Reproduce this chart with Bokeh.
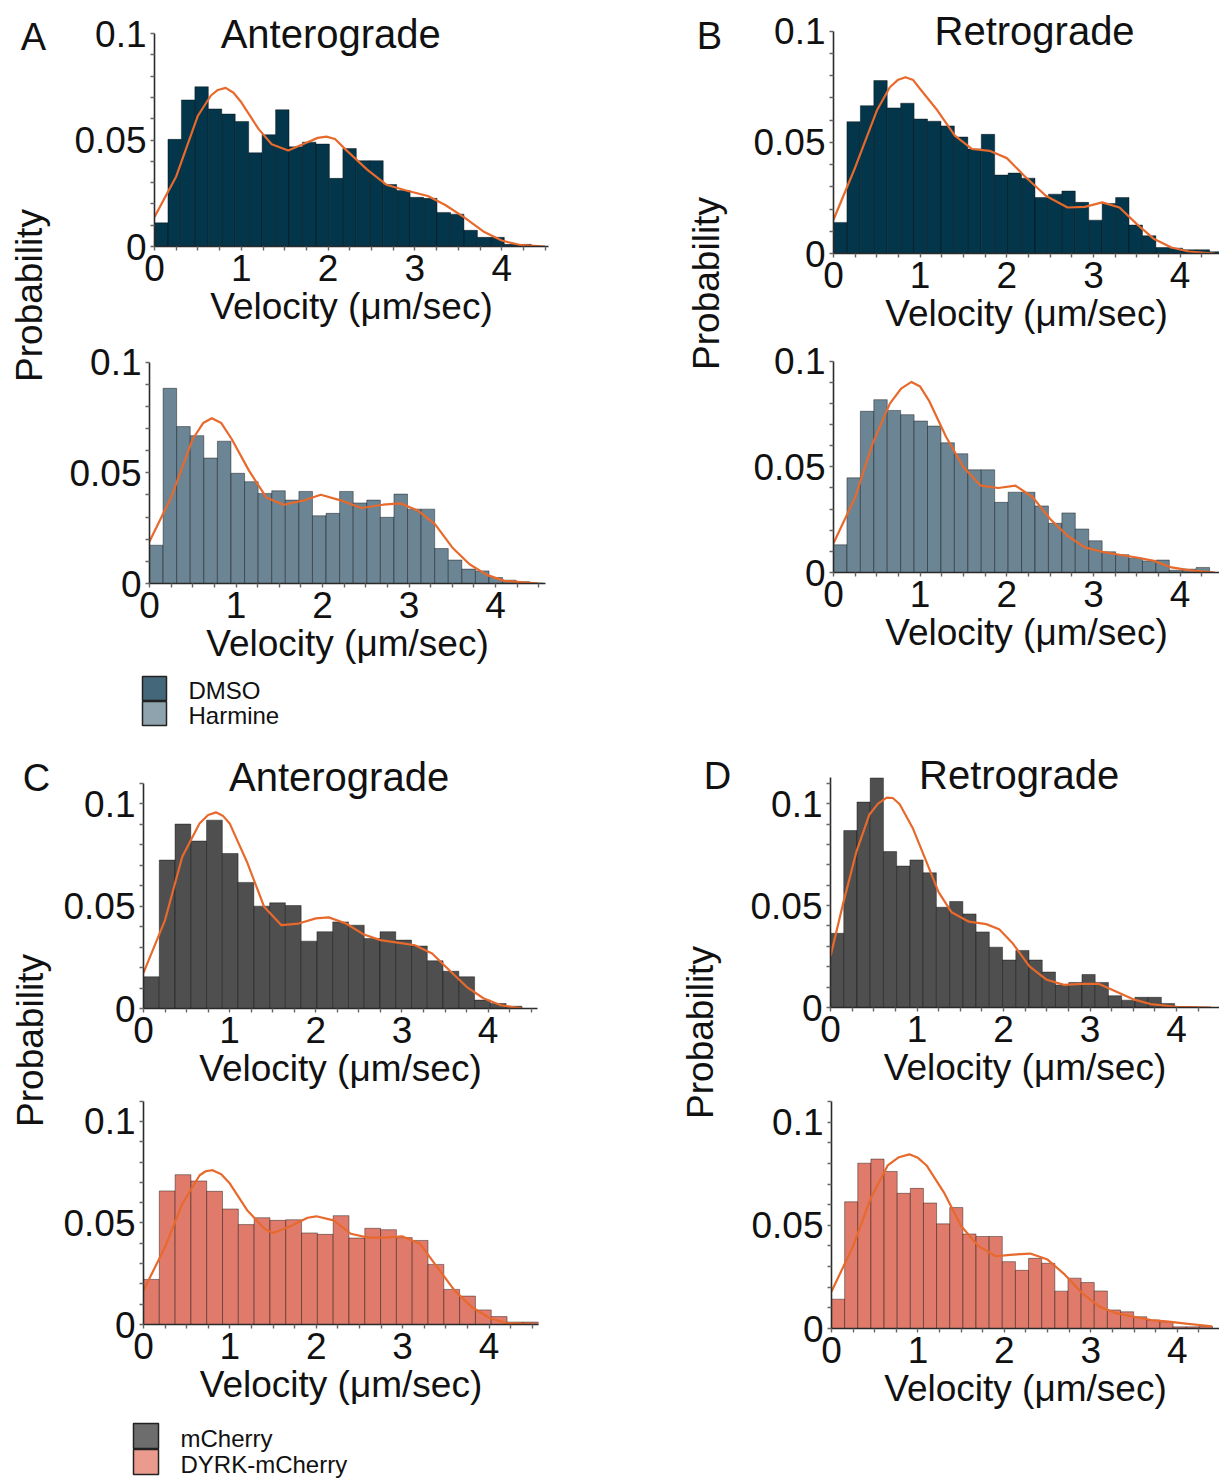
import math
from bokeh.plotting import figure
from bokeh.models import Range1d, FixedTicker, CustomJSTickFormatter, Label
from bokeh.core.properties import value
from bokeh.layouts import row, column
from bokeh.embed import file_html
from bokeh.resources import INLINE

FONT = "Liberation Sans"

# ---------------- data ----------------
x_major_ticks = [0, 1, 2, 3, 4]
x_minor_ticks = [0.25, 0.5, 0.75, 1.25, 1.5, 1.75, 2.25, 2.5, 2.75,
                 3.25, 3.5, 3.75, 4.25, 4.5]
y_major_ticks = [0, 0.05, 0.1]
y_minor_ticks = [0.01, 0.02, 0.03, 0.04, 0.06, 0.07, 0.08, 0.09, 0.11]

x_label = "Velocity (μm/sec)"
y_label = "Probability"
titles = ["Anterograde", "Retrograde"]
legend_ab = ["DMSO", "Harmine"]
legend_cd = ["mCherry", "DYRK-mCherry"]

# A top: DMSO anterograde
a_top_bin = 0.155
a_top_prob = [0.0111, 0.0503, 0.0688, 0.0750, 0.0646, 0.0622, 0.0587, 0.0440,
              0.0525, 0.0642, 0.0468, 0.0490, 0.0481, 0.0320, 0.0460, 0.0403,
              0.0403, 0.0291, 0.0263, 0.0231, 0.0226, 0.0160, 0.0152, 0.0076,
              0.0043, 0.0043, 0.0010, 0.0010]
a_top_fit_x = [0, 0.25, 0.5, 0.65, 0.73, 0.82, 0.91, 1.0, 1.2, 1.35, 1.54, 1.75,
               1.88, 1.98, 2.08, 2.2, 2.45, 2.67, 2.9, 3.15, 3.35, 3.56, 3.8, 4.0,
               4.2, 4.5]
a_top_fit_y = [0.0139, 0.0329, 0.0614, 0.0709, 0.0735, 0.0745, 0.0722, 0.0677,
               0.0551, 0.0480, 0.0451, 0.0487, 0.0510, 0.0516, 0.0505, 0.0456,
               0.0361, 0.0290, 0.0263, 0.0237, 0.0195, 0.0139, 0.0068, 0.0028,
               0.0008, 0.0]

# A bottom: Harmine anterograde
a_bot_bin = 0.157
a_bot_prob = [0.0173, 0.0882, 0.0709, 0.0668, 0.0567, 0.0643, 0.0498, 0.0460,
              0.0407, 0.0419, 0.0377, 0.0416, 0.0306, 0.0317, 0.0416, 0.0364,
              0.0377, 0.0299, 0.0404, 0.0336, 0.0336, 0.0158, 0.0106, 0.0065,
              0.0057, 0.0027, 0.0015, 0.0008, 0.0002]
a_bot_fit_x = [0, 0.25, 0.5, 0.62, 0.72, 0.83, 0.95, 1.15, 1.35, 1.55, 1.8, 1.98,
               2.2, 2.45, 2.7, 2.9, 3.1, 3.3, 3.5, 3.7, 3.9, 4.1, 4.5]
a_bot_fit_y = [0.0190, 0.0389, 0.0653, 0.0725, 0.0747, 0.0725, 0.0653, 0.0510,
               0.0389, 0.0356, 0.0377, 0.0401, 0.0377, 0.0341, 0.0356, 0.0362,
               0.0330, 0.0268, 0.0163, 0.0087, 0.0039, 0.0012, 0.0]

# B top: DMSO retrograde
b_top_bin = 0.155
b_top_prob = [0.0140, 0.0593, 0.0665, 0.0778, 0.0655, 0.0676, 0.0605, 0.0595,
              0.0574, 0.0524, 0.0470, 0.0536, 0.0353, 0.0362, 0.0339, 0.0252,
              0.0267, 0.0281, 0.0230, 0.0150, 0.0225, 0.0252, 0.0128, 0.0080,
              0.0027, 0.0024, 0.0017, 0.0017, 0.0008]
b_top_fit_x = [0, 0.25, 0.5, 0.65, 0.74, 0.83, 0.92, 1.0, 1.2, 1.4, 1.6, 1.8,
               2.0, 2.2, 2.45, 2.7, 2.9, 3.1, 3.3, 3.5, 3.7, 3.9, 4.1, 4.4]
b_top_fit_y = [0.0152, 0.0387, 0.0643, 0.0748, 0.0780, 0.0793, 0.0780, 0.0740,
               0.0643, 0.0530, 0.0470, 0.0462, 0.0429, 0.0350, 0.0260, 0.0207,
               0.0210, 0.0230, 0.0207, 0.0132, 0.0065, 0.0027, 0.0009, 0.0]

# B bottom: Harmine retrograde
b_bot_bin = 0.155
b_bot_prob = [0.0131, 0.0448, 0.0763, 0.0818, 0.0767, 0.0747, 0.0717, 0.0693,
              0.0614, 0.0562, 0.0486, 0.0486, 0.0332, 0.0380, 0.0380, 0.0315,
              0.0233, 0.0282, 0.0206, 0.0150, 0.0098, 0.0084, 0.0068, 0.0055,
              0.0059, 0.0011, 0.0016, 0.0024]
b_bot_fit_x = [0, 0.25, 0.45, 0.65, 0.78, 0.9, 1.0, 1.1, 1.3, 1.5, 1.7, 1.9,
               2.1, 2.3, 2.5, 2.7, 2.9, 3.1, 3.3, 3.5, 3.7, 3.9, 4.1, 4.4]
b_bot_fit_y = [0.0138, 0.0356, 0.0609, 0.0799, 0.0870, 0.0902, 0.0880, 0.0815,
               0.0641, 0.0498, 0.0411, 0.0400, 0.0411, 0.0356, 0.0253, 0.0174,
               0.0119, 0.0098, 0.0084, 0.0071, 0.0055, 0.0024, 0.0011, 0.0]

# C top: mCherry anterograde
c_top_bin = 0.183
c_top_prob = [0.0155, 0.0725, 0.0901, 0.0818, 0.0920, 0.0757, 0.0616, 0.0500,
              0.0516, 0.0503, 0.0329, 0.0375, 0.0423, 0.0407, 0.0342, 0.0375,
              0.0334, 0.0305, 0.0233, 0.0182, 0.0155, 0.0041, 0.0024, 0.0011]
c_top_fit_x = [0, 0.25, 0.45, 0.65, 0.75, 0.84, 0.92, 1.0, 1.2, 1.4, 1.6, 1.8,
               2.0, 2.15, 2.35, 2.55, 2.75, 2.95, 3.15, 3.35, 3.55, 3.75, 3.95,
               4.15, 4.4]
c_top_fit_y = [0.0174, 0.0432, 0.0741, 0.0904, 0.0945, 0.0958, 0.0942, 0.0904,
               0.0717, 0.0497, 0.0407, 0.0415, 0.0440, 0.0445, 0.0415, 0.0363,
               0.0334, 0.0322, 0.0309, 0.0269, 0.0187, 0.0106, 0.0049, 0.0016,
               0.0]

# C bottom: DYRK-mCherry anterograde
c_bot_bin = 0.183
c_bot_prob = [0.0222, 0.0658, 0.0738, 0.0707, 0.0656, 0.0569, 0.0492, 0.0526,
              0.0513, 0.0516, 0.0451, 0.0444, 0.0536, 0.0426, 0.0474, 0.0467,
              0.0428, 0.0414, 0.0296, 0.0173, 0.0140, 0.0072, 0.0039, 0.0012,
              0.0012]
c_bot_fit_x = [0, 0.25, 0.45, 0.65, 0.72, 0.8, 0.9, 1.0, 1.2, 1.4, 1.5, 1.7,
               1.9, 2.0, 2.2, 2.4, 2.6, 2.8, 3.0, 3.2, 3.4, 3.6, 3.8, 4.0, 4.2,
               4.5]
c_bot_fit_y = [0.0168, 0.0382, 0.0595, 0.0735, 0.0755, 0.0760, 0.0740, 0.0694,
               0.0563, 0.0472, 0.0451, 0.0484, 0.0526, 0.0533, 0.0513, 0.0447,
               0.0428, 0.0428, 0.0434, 0.0398, 0.0283, 0.0168, 0.0086, 0.0033,
               0.0007, 0.0]

# D top: mCherry retrograde
d_top_bin = 0.153
d_top_prob = [0.0364, 0.0868, 0.1008, 0.1126, 0.0765, 0.0694, 0.0724, 0.0661,
              0.0492, 0.0520, 0.0459, 0.0371, 0.0296, 0.0233, 0.0280, 0.0233,
              0.0174, 0.0111, 0.0123, 0.0162, 0.0123, 0.0058, 0.0036, 0.0050,
              0.0050, 0.0020, 0.0003]
d_top_fit_x = [0, 0.15, 0.3, 0.45, 0.55, 0.65, 0.72, 0.8, 0.95, 1.1, 1.25, 1.4,
               1.6, 1.8, 1.95, 2.1, 2.3, 2.5, 2.7, 2.9, 3.1, 3.3, 3.5, 3.7, 4.0,
               4.4]
d_top_fit_y = [0.0252, 0.0517, 0.0765, 0.0947, 0.1000, 0.1030, 0.1028, 0.0997,
               0.0881, 0.0724, 0.0566, 0.0467, 0.0421, 0.0409, 0.0384, 0.0318,
               0.0202, 0.0136, 0.0111, 0.0116, 0.0116, 0.0078, 0.0040, 0.0017,
               0.0003, 0.0]

# D bottom: DYRK-mCherry retrograde
d_bot_bin = 0.152
d_bot_prob = [0.0142, 0.0614, 0.0801, 0.0821, 0.0761, 0.0655, 0.0679, 0.0608,
              0.0507, 0.0586, 0.0458, 0.0446, 0.0446, 0.0324, 0.0282, 0.0340,
              0.0316, 0.0181, 0.0244, 0.0223, 0.0182, 0.0090, 0.0081, 0.0057,
              0.0041, 0.0033, 0.0008, 0.0008, 0.0011]
d_bot_fit_x = [0, 0.25, 0.45, 0.65, 0.78, 0.9, 1.0, 1.1, 1.3, 1.5, 1.7, 1.9,
               2.1, 2.3, 2.5, 2.7, 2.9, 3.1, 3.3, 3.5, 3.7, 3.9, 4.1, 4.4]
d_bot_fit_y = [0.0179, 0.0399, 0.0627, 0.0790, 0.0830, 0.0844, 0.0827, 0.0790,
               0.0660, 0.0497, 0.0399, 0.0350, 0.0358, 0.0363, 0.0334, 0.0261,
               0.0171, 0.0106, 0.0073, 0.0057, 0.0041, 0.0033, 0.0024, 0.0011]

# ---------------- styles ----------------
COL_DMSO = "#03364b"
COL_HARM = "#6b8594"
COL_MCH = "#4f4f4f"
COL_DYRK = "#e07b6b"
COL_FIT = "#e8692c"
LEG_COLS_AB = ["#44677a", "#8ea3ad"]
LEG_COLS_CD = ["#6d6d6d", "#eb9b8e"]

formatter = CustomJSTickFormatter(code="return String(Math.round(tick * 1000) / 1000);")


def bare(w, h, xr, yr):
    p = figure(width=w, height=h, output_backend="svg", toolbar_location=None,
               x_range=xr, y_range=yr,
               x_axis_location=None, y_axis_location=None,
               min_border_left=0, min_border_right=0, min_border_top=0,
               min_border_bottom=0, frame_align=False)
    p.title.visible = False
    p.grid.visible = False
    p.outline_line_color = None
    return p


def hist_panel(w, h, bl, br, bb, x_end, y_end, y_top, bw, probs, fx, fy, color,
               title=None, tx=None, ty=None):
    p = figure(width=w, height=h, output_backend="svg", toolbar_location=None,
               x_range=Range1d(0, x_end), y_range=Range1d(0, y_end),
               min_border_left=bl, min_border_right=br, min_border_top=0,
               min_border_bottom=bb, frame_align=False)
    p.title.visible = False
    p.grid.visible = False
    p.outline_line_color = None
    left = [i * bw for i in range(len(probs))]
    right = [(i + 1) * bw for i in range(len(probs))]
    p.quad(left=left, right=right, bottom=0, top=probs, fill_color=color,
           line_color="#000000", line_alpha=0.4, line_width=1)
    p.line(fx, fy, line_color=COL_FIT, line_width=2.2, line_join="round")
    p.xaxis.ticker = FixedTicker(ticks=x_major_ticks, minor_ticks=x_minor_ticks)
    p.yaxis.ticker = FixedTicker(ticks=y_major_ticks,
                                 minor_ticks=[t for t in y_minor_ticks if t <= y_top])
    p.yaxis.bounds = (0, y_top)
    for ax in (p.xaxis[0], p.yaxis[0]):
        ax.formatter = formatter
        ax.major_label_text_font = FONT
        ax.major_label_text_font_size = "37px"
        ax.major_label_text_color = "#111111"
        ax.axis_line_color = "#2a2a2a"
        ax.axis_line_width = 1.6
        ax.major_tick_in = 0
        ax.major_tick_out = 4
        ax.minor_tick_in = 0
        ax.minor_tick_out = 4
        ax.major_tick_line_color = "#666666"
        ax.minor_tick_line_color = "#666666"
        ax.major_tick_line_width = 1.4
        ax.minor_tick_line_width = 1.4
    p.yaxis.major_label_standoff = 4
    p.xaxis.major_label_standoff = 4
    p.xaxis.axis_label = x_label
    p.xaxis.axis_label_text_font = FONT
    p.xaxis.axis_label_text_font_size = "37px"
    p.xaxis.axis_label_text_font_style = "normal"
    p.xaxis.axis_label_text_color = "#111111"
    p.xaxis.axis_label_standoff = 2
    if title is not None:
        p.add_layout(Label(x=tx, y=ty, text=title, text_font=FONT,
                           text_font_size="40px", text_align="center",
                           text_baseline="middle", text_color="#111111"))
    return p


def label_panel(w, h, letter, lx, ly, px, py):
    p = bare(w, h, Range1d(0, 1), Range1d(0, 1))
    p.add_layout(Label(x=lx, y=h - ly, x_units="screen", y_units="screen",
                       text=letter, text_font=FONT, text_font_size="38px",
                       text_align="center", text_baseline="middle",
                       text_color="#111111"))
    p.add_layout(Label(x=px, y=h - py, x_units="screen", y_units="screen",
                       text=y_label, text_font=FONT, text_font_size="37px",
                       angle=math.pi / 2, text_align="center",
                       text_baseline="middle", text_color="#111111"))
    return p


def legend_panel(w, h, labels, cols, sx, sy, size, step, tx, tdy):
    # pixel-like coordinate system, y growing downward
    p = bare(w, h, Range1d(0, w), Range1d(h, 0))
    ys = [sy + i * step for i in range(len(labels))]
    p.rect(x=[sx] * len(labels), y=ys, width=size, height=size,
           fill_color=cols, line_color="#222222", line_width=1.5)
    p.text(x=[tx] * len(labels), y=[v + tdy for v in ys], text=labels,
           text_font=value(FONT), text_font_size="24px", text_color="#111111",
           text_align="left", text_baseline="middle")
    return p


# ---------------- quadrant A / B (rows 0..740) ----------------
a_top = hist_panel(540, 340, 94, 52, 94, 4.539, 0.1155, 0.1, a_top_bin,
                   a_top_prob, a_top_fit_x, a_top_fit_y, COL_DMSO,
                   titles[0], 2.03, 0.1)
a_bot = hist_panel(540, 330, 89, 55, 87, 4.578, 0.1098, 0.1, a_bot_bin,
                   a_bot_prob, a_bot_fit_x, a_bot_fit_y, COL_HARM)
a_leg = legend_panel(540, 70, legend_ab, LEG_COLS_AB, 94, 18, 24, 25, 128, 2)
b_top = hist_panel(479, 340, 93, 0, 87, 4.454, 0.1138, 0.1, b_top_bin,
                   b_top_prob, b_top_fit_x, b_top_fit_y, COL_DMSO,
                   titles[1], 2.32, 0.1)
b_bot = hist_panel(479, 400, 93, 0, 168, 4.454, 0.1098, 0.1, b_bot_bin,
                   b_bot_prob, b_bot_fit_x, b_bot_fit_y, COL_HARM)
lab_a = label_panel(60, 740, "A", 33, 36, 29, 295)
lab_b = label_panel(140, 740, "B", 109, 35, 106, 283)

# ---------------- quadrant C / D (rows 740..1478) ----------------
c_top = hist_panel(540, 355, 82, 63, 87, 4.573, 0.1309, 0.11, c_top_bin,
                   c_top_prob, c_top_fit_x, c_top_fit_y, COL_MCH,
                   titles[0], 2.27, 0.113)
c_bot = hist_panel(540, 315, 83, 62, 86, 4.573, 0.1128, 0.11, c_bot_bin,
                   c_bot_prob, c_bot_fit_x, c_bot_fit_y, COL_DYRK)
c_leg = legend_panel(540, 68, legend_cd, LEG_COLS_CD, 85.5, 25.5, 25, 26, 120, 2)
d_top = hist_panel(479, 355, 90, 0, 88, 4.497, 0.131, 0.113, d_top_bin,
                   d_top_prob, d_top_fit_x, d_top_fit_y, COL_MCH,
                   titles[1], 2.18, 0.1139)
d_bot = hist_panel(479, 383, 91, 0, 150, 4.489, 0.1129, 0.11, d_bot_bin,
                   d_bot_prob, d_bot_fit_x, d_bot_fit_y, COL_DYRK)
lab_c = label_panel(60, 738, "C", 36, 37, 30, 300)
lab_d = label_panel(140, 738, "D", 117, 35, 100, 292)

row1 = row(lab_a, column(a_top, a_bot, a_leg), lab_b, column(b_top, b_bot))
row2 = row(lab_c, column(c_top, c_bot, c_leg), lab_d, column(d_top, d_bot))
page = column(row1, row2)

open("out.html", "w").write(file_html(page, INLINE))
